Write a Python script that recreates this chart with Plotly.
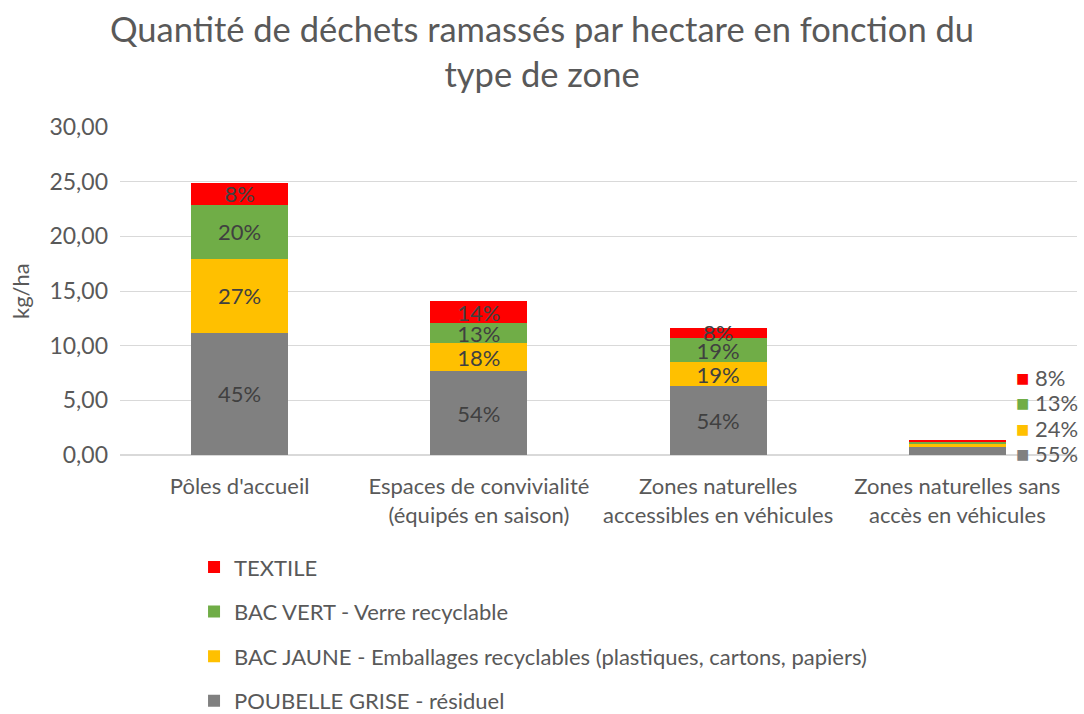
import plotly.graph_objects as go

categories = [
    "Pôles d'accueil",
    "Espaces de convivialité<br>(équipés en saison)",
    "Zones naturelles<br>accessibles en véhicules",
    "Zones naturelles sans<br>accès en véhicules",
]
series_names = [
    "POUBELLE GRISE - résiduel",
    "BAC JAUNE - Emballages recyclables (plastiques, cartons, papiers)",
    "BAC VERT - Verre recyclable",
    "TEXTILE",
]
grise = [11.2, 7.65, 6.30, 0.72]
jaune = [6.7, 2.55, 2.20, 0.31]
vert = [5.0, 1.85, 2.20, 0.17]
textile = [2.0, 2.00, 0.93, 0.10]
colors = ["#808080", "#FFC000", "#70AD47", "#FF0000"]
legend_ranks = [4, 3, 2, 1]
y_ticks = [0, 5, 10, 15, 20, 25, 30]
y_tick_labels = ["0,00", "5,00", "10,00", "15,00", "20,00", "25,00", "30,00"]

all_series = [grise, jaune, vert, textile]
totals = [sum(s[i] for s in all_series) for i in range(len(categories))]

FONT = "Lato, Carlito, 'Open Sans', sans-serif"
TXT = "#595959"
FS = 22

fig = go.Figure()
for k, (name, vals, col) in enumerate(zip(series_names, all_series, colors)):
    pct = [f"{round(v / t * 100)}%" for v, t in zip(vals, totals)]
    labels = pct[:-1] + [""]
    fig.add_trace(go.Bar(
        x=categories, y=vals, name=name, marker=dict(color=col, line=dict(width=0)),
        text=labels, textposition="inside", insidetextanchor="middle",
        constraintext="none", textangle=0,
        textfont=dict(family=FONT, size=FS, color="#404040"),
        legendgroup=f"g{k}", legendrank=legend_ranks[k], hoverinfo="y+name",
    ))

last = len(categories) - 1
ypos = [0.006, 0.082, 0.159, 0.235]
for k, (vals, col) in enumerate(zip(all_series, colors)):
    p = f"{round(vals[last] / totals[last] * 100)}%"
    fig.add_annotation(
        xref="paper", yref="paper", x=0.934, y=ypos[k], xanchor="left", yanchor="middle",
        text=f"<span style='color:{col};font-size:22px'>■</span> {p}", showarrow=False,
        font=dict(family=FONT, size=FS, color=TXT),
    )

# y-axis title
fig.add_annotation(
    xref="paper", yref="paper", x=-0.1045, y=0.5, xanchor="center", yanchor="middle",
    text="kg/ha", textangle=-90, showarrow=False,
    font=dict(family=FONT, size=FS, color=TXT),
)

fig.update_layout(
    barmode="stack",
    bargap=0.595,
    width=1084, height=714,
    margin=dict(l=120, r=7, t=127, b=259, autoexpand=False),
    paper_bgcolor="white", plot_bgcolor="white",
    title=dict(
        text="Quantité de déchets ramassés par hectare en fonction du<br>type de zone",
        x=0.5, xanchor="center", y=0.941, yanchor="top",
        font=dict(family=FONT, size=34.5, color=TXT),
    ),
    font=dict(family=FONT, color=TXT),
    legend=dict(
        orientation="v", xref="container", yref="container",
        x=0.179, y=0.235, xanchor="left", yanchor="top",
        traceorder="grouped", tracegroupgap=13,
        font=dict(family=FONT, size=FS, color=TXT),
        itemclick=False,
    ),
    showlegend=True,
)
fig.update_yaxes(
    range=[0, 30], tickvals=y_ticks, ticktext=y_tick_labels,
    showgrid=True, gridcolor="#D9D9D9", gridwidth=1, zeroline=True, zerolinecolor="#D9D9D9",
    tickfont=dict(family=FONT, size=23, color=TXT), ticks="", ticklen=0,
    ticklabelstandoff=11,
    showline=False, automargin=False,
)
fig.update_xaxes(
    tickfont=dict(family=FONT, size=FS, color=TXT), showline=False, ticks="",
    ticklabelstandoff=16, automargin=False,
)
fig.write_html("out.html", config={"displayModeBar": False},
               post_script="document.body.style.margin='0';")
